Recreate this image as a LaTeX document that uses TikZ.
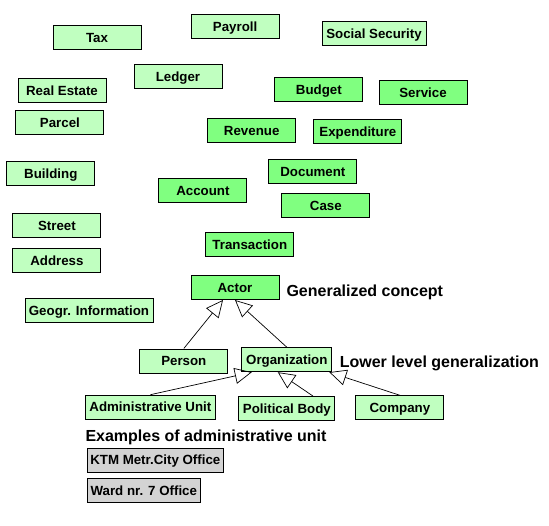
\documentclass[tikz,border=0pt]{standalone}
\usepackage{fontspec}
\setmainfont{Liberation Sans}
\definecolor{palegreen}{HTML}{C0FFC0}
\definecolor{coregreen}{HTML}{80FF80}
\definecolor{samplegray}{HTML}{D3D3D3}
\usetikzlibrary{positioning, arrows.meta}

\begin{document}
\begin{tikzpicture}[x=1pt, y=-1pt,
  box/.style={draw=black, line width=1pt, minimum width=88pt, minimum height=24pt,
              inner sep=0pt, text height=9.5pt, text depth=0pt,
              font=\fontsize{13.3}{15}\selectfont\bfseries},
  light/.style={box, fill=palegreen},
  core/.style={box, fill=coregreen},
  sample/.style={box, fill=samplegray},
  gen/.style={-{Triangle[open, length=17pt, width=16pt]}, line width=0.7pt, black},
  lbl/.style={anchor=base west, font=\fontsize{16}{19}\selectfont\bfseries}]
  \useasboundingbox[fill=white] (0,0) rectangle (549,525);
  % Concepts
  \node[light] (tax) at (97,37.8) {Tax};
  \node[light] (payroll) at (235.1,26.8) {Payroll};
  \node[light, minimum width=104pt] (socsec) at (374,33.8) {Social Security};
  \node[light] (ledger) at (178,76.8) {Ledger};
  \node[light] (realestate) at (62,90.8) {Real Estate};
  \node[light] (parcel) at (59.9,122.8) {Parcel};
  \node[core] (budget) at (318.8,89.8) {Budget};
  \node[core] (service) at (423,92.8) {Service};
  \node[core] (revenue) at (251.7,130.8) {Revenue};
  \node[core] (expenditure) at (357.9,131.8) {Expenditure};
  \node[core] (document) at (312.9,171.8) {Document};
  \node[light] (building) at (50.8,173.8) {Building};
  \node[core] (account) at (202.9,190.8) {Account};
  \node[core] (case) at (325.8,205.8) {Case};
  \node[light] (street) at (56.9,225.8) {Street};
  \node[light] (address) at (56.9,260.8) {Address};
  \node[core] (transaction) at (249.8,244.8) {Transaction};
  \node[light, minimum width=128pt] (geogr) at (89,310.8) {Geogr. Information};
  % Generalization hierarchy
  \node[core] (actor) at (235,287.5) {Actor};
  \node[light] (person) at (183.8,361) {Person};
  \node[light, minimum width=90pt] (organization) at (286.8,359.7) {Organization};
  \node[light, minimum width=130pt] (adminunit) at (150.4,407.2) {Administrative Unit};
  \node[light, minimum width=96pt] (political) at (286.9,408.5) {Political Body};
  \node[light] (company) at (399.9,407.8) {Company};
  % Examples
  \node[sample, minimum width=136pt] (ktm) at (155.3,460) {KTM Metr.City Office};
  \node[sample, minimum width=113pt] (ward) at (143.8,490.8) {Ward nr. 7 Office};
  % Arrows
  \draw[gen] (person.north) -- ([xshift=-12pt]actor.south);
  \draw[gen] (organization.north) -- (actor.south);
  \draw[gen] (adminunit.north) -- ([xshift=-35pt]organization.south);
  \draw[gen] ([xshift=26pt]political.north) -- ([xshift=-9pt]organization.south);
  \draw[gen] (company.north) -- ([xshift=-3pt]organization.south east);
  % Annotations
  \node[lbl] (genlbl) at (283,296.5) {Generalized concept};
  \node[lbl] (lowlbl) at (336.3,367.5) {Lower level generalization};
  \node[lbl] (exlbl) at (82,441) {Examples of administrative unit};
\end{tikzpicture}
\end{document}
